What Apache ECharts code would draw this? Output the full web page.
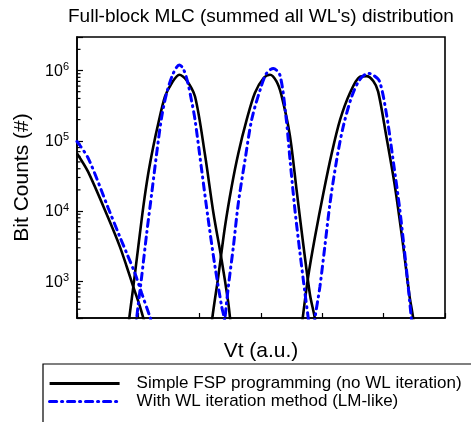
<!DOCTYPE html>
<html style="height: 100%">
   <head>
       <meta charset="utf-8">
   </head>
   <body style="height: 100%; margin: 0">
       <div id="container" style="height: 100%"></div>
       <script type="text/javascript" src="https://cdn.jsdelivr.net/npm/echarts@6/dist/echarts.min.js"></script>
       <script type="text/javascript">
// values (Vt in a.u., bit counts)
var fspTailVt     = [0, 0.18, 0.51, 0.70, 0.81, 0.918, 1.027, 1.08, 1.2];
var fspTailCount  = [66070, 36310, 7943, 3090, 1622, 832, 437, 302, 141];
var fspPeak1Vt    = [0.80, 0.853, 0.918, 0.999, 1.081, 1.163, 1.244, 1.326, 1.435, 1.544, 1.668, 1.78, 1.924, 2.087, 2.223, 2.359, 2.464, 2.495, 2.56];
var fspPeak1Count = [100, 300, 832, 3090, 11480, 34670, 83180, 177800, 426600, 660700, 871000, 741300, 426600, 63100, 9550, 1995, 513, 302, 100];
var fspPeak2Vt    = [2.15, 2.206, 2.304, 2.413, 2.522, 2.63, 2.767, 2.90, 3.04, 3.147, 3.25, 3.33, 3.47, 3.58, 3.69, 3.80, 3.876, 3.93];
var fspPeak2Count = [100, 300, 1175, 6026, 22390, 66070, 199500, 478600, 776200, 871000, 707900, 457100, 120200, 19950, 3311, 631, 302, 126];
var fspPeak3Vt    = [3.62, 3.68, 3.77, 3.88, 4.016, 4.153, 4.29, 4.45, 4.61, 4.72, 4.83, 4.91, 5.04, 5.18, 5.31, 5.42, 5.48, 5.53];
var fspPeak3Count = [100, 300, 1175, 4266, 17780, 66070, 199500, 478600, 812800, 831800, 707900, 501200, 120200, 23440, 3631, 631, 302, 126];

var wlTailVt      = [0, 0.184, 0.51, 0.70, 0.81, 0.946, 1.055, 1.19, 1.3];
var wlTailCount   = [97720, 56230, 10960, 4266, 2512, 1288, 676, 309, 158];
var wlPeak1Vt     = [0.92, 0.973, 1.055, 1.136, 1.218, 1.299, 1.381, 1.462, 1.57, 1.668, 1.73, 1.80, 1.87, 1.924, 2.033, 2.141, 2.25, 2.359, 2.40, 2.45];
var wlPeak1Count  = [100, 300, 1175, 4786, 17780, 66070, 218800, 478600, 912000, 1202000, 1071500, 707900, 363100, 199500, 38020, 7413, 1622, 437, 300, 126];
var wlPeak2Vt     = [2.36, 2.413, 2.467, 2.549, 2.63, 2.74, 2.848, 2.984, 3.09, 3.20, 3.31, 3.41, 3.473, 3.554, 3.636, 3.717, 3.77, 3.82];
var wlPeak2Count  = [100, 300, 832, 3090, 12880, 53700, 199500, 524800, 912000, 1071500, 851100, 208900, 53700, 10230, 2512, 676, 300, 126];
var wlPeak3Vt     = [3.83, 3.88, 3.96, 4.04, 4.125, 4.234, 4.34, 4.48, 4.61, 4.75, 4.82, 4.93, 5.04, 5.15, 5.26, 5.37, 5.45, 5.49];
var wlPeak3Count  = [126, 300, 832, 3090, 12880, 53700, 158500, 426600, 741300, 912000, 871000, 707900, 257000, 56230, 10960, 1514, 302, 126];

var fspName = 'Simple FSP programming (no WL iteration)';
var wlName = 'With WL iteration method (LM-like)';

var yMin = 300, yMax = 3e6;

function zip(xs, ys) {
    return xs.map(function (x, i) { return [x, ys[i]]; });
}

function fspSeries(xs, ys) {
    return {
        type: 'line', name: fspName, data: zip(xs, ys),
        symbol: 'none', smooth: 0.3, animation: false,
        lineStyle: { color: '#000', width: 2.6 },
        itemStyle: { color: '#000' }, z: 2
    };
}

function wlSeries(xs, ys) {
    return {
        type: 'line', name: wlName, data: zip(xs, ys),
        symbol: 'none', smooth: 0.3, animation: false,
        lineStyle: { color: '#0000ff', width: 3, type: [7, 5, 1, 5], cap: 'round' },
        itemStyle: { color: '#0000ff' }, z: 3
    };
}

var dom = document.getElementById("container");
var myChart = echarts.init(dom);
var option = {
    backgroundColor: '#fff',
    textStyle: { fontFamily: 'Liberation Sans, Arial, sans-serif' },
    title: {
        text: "Full-block MLC (summed all WL's) distribution",
        left: 68, top: 7, padding: 0,
        textStyle: { fontSize: 19, fontWeight: 'normal', color: '#000' }
    },
    legend: {
        data: [fspName, wlName],
        orient: 'vertical',
        left: 43, top: 364,
        padding: [11, 5, 0, 5],
        itemWidth: 70, itemHeight: 14, itemGap: 1,
        itemStyle: { opacity: 0 },
        lineStyle: { width: 3.2 },
        textStyle: { fontSize: 17, color: '#000', lineHeight: 17, padding: [0, 0, 0, 12] }
    },
    grid: {
        left: 77, right: 26, top: 37, bottom: 104,
        show: true, borderColor: '#000', borderWidth: 1.6
    },
    xAxis: {
        type: 'value', min: 0, max: 6, interval: 1,
        name: 'Vt (a.u.)', nameLocation: 'middle', nameGap: 23,
        nameTextStyle: { fontSize: 21, color: '#000' },
        axisLine: { lineStyle: { color: '#000', width: 1.6 } },
        axisTick: { inside: true, length: 5, lineStyle: { color: '#000', width: 1.2 } },
        axisLabel: { show: false },
        splitLine: { show: false }
    },
    yAxis: {
        type: 'log', logBase: 10, min: yMin, max: yMax,
        name: 'Bit Counts (#)', nameLocation: 'middle', nameGap: 44,
        nameTextStyle: { fontSize: 21, color: '#000' },
        axisLine: { show: true, lineStyle: { color: '#000', width: 1.6 } },
        axisTick: { inside: true, length: 6, lineStyle: { color: '#000', width: 1.2 } },
        axisLabel: {
            margin: 8,
            formatter: function (v) {
                var e = Math.log10(v);
                if (Math.abs(e - Math.round(e)) > 1e-6) return '';
                return '{b|10}{s|' + Math.round(e) + '}';
            },
            rich: {
                b: { fontSize: 16, color: '#000', lineHeight: 18, verticalAlign: 'bottom' },
                s: { fontSize: 11, color: '#000', lineHeight: 18, verticalAlign: 'top', padding: [0, 0, 6, 0] }
            }
        },
        splitLine: { show: false }
    },
    series: [
        fspSeries(fspTailVt, fspTailCount),
        fspSeries(fspPeak1Vt, fspPeak1Count),
        fspSeries(fspPeak2Vt, fspPeak2Count),
        fspSeries(fspPeak3Vt, fspPeak3Count),
        wlSeries(wlTailVt, wlTailCount),
        wlSeries(wlPeak1Vt, wlPeak1Count),
        wlSeries(wlPeak2Vt, wlPeak2Count),
        wlSeries(wlPeak3Vt, wlPeak3Count)
    ]
};
myChart.setOption(option, true);

// log-spaced minor ticks on the left axis, plus the legend frame
var x0 = myChart.convertToPixel({ xAxisIndex: 0 }, 0);
var extras = [{
    type: 'rect', silent: true,
    shape: { x: 43, y: 364, width: 440, height: 80 },
    style: { fill: 'none', stroke: '#000', lineWidth: 1.2 }
}];
for (var d = 2; d <= 6; d++) {
    for (var m = 2; m <= 9; m++) {
        var v = m * Math.pow(10, d);
        if (v <= yMin || v >= yMax) continue;
        var py = myChart.convertToPixel({ yAxisIndex: 0 }, v);
        extras.push({
            type: 'line', silent: true,
            shape: { x1: x0, y1: py, x2: x0 + 3.5, y2: py },
            style: { stroke: '#000', lineWidth: 1.2 }
        });
    }
}
myChart.setOption({ graphic: extras });
       </script>
   </body>
</html>
